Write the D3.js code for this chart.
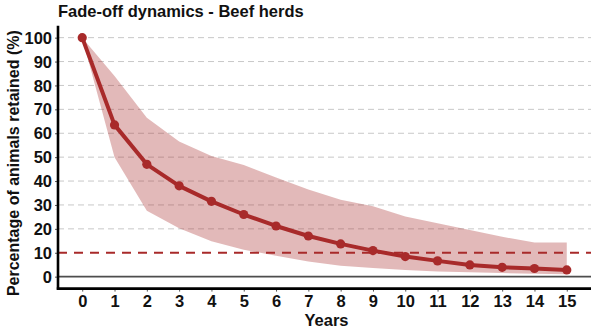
<!DOCTYPE html>
<html>
<head>
<meta charset="utf-8">
<script src="https://cdn.jsdelivr.net/npm/d3@7"></script>
<style>
  html, body { margin: 0; padding: 0; background: #fff; }
  svg { display: block; font-family: "Liberation Sans", Arial, sans-serif; }
</style>
</head>
<body>
<svg id="chart" width="600" height="328"></svg>
<script>
// Fade-off of beef herds: share of animals still retained after N years
const years = [0, 1, 2, 3, 4, 5, 6, 7, 8, 9, 10, 11, 12, 13, 14, 15];
const meanRetained = [100, 63.5, 47, 38, 31.5, 26, 21.2, 17, 13.7, 10.9, 8.4, 6.6, 4.9, 3.9, 3.4, 2.8];
const upperRetained = [100, 84, 66.5, 56.5, 50.5, 46.7, 41.5, 36.5, 32.2, 29.5, 25.2, 22.3, 19.5, 16.7, 14.3, 14.3];
const lowerRetained = [100, 50, 27.6, 20.2, 14.8, 11.3, 8.7, 6.3, 4.6, 3.6, 2.8, 2.2, 1.8, 1.5, 1.2, 1.0];
const yTicks = [0, 10, 20, 30, 40, 50, 60, 70, 80, 90, 100];
const threshold = 10;

const red = "#a82a2a";
const svg = d3.select("#chart");

const x = d3.scaleLinear().domain([-0.75, 15.75]).range([58, 591]);
const y = d3.scaleLinear().domain([-5, 105]).range([288.6, 25.7]);

// dashed grid lines
svg.append("g")
  .selectAll("line")
  .data(yTicks.filter(t => t > 0 && t !== threshold))
  .join("line")
  .attr("x1", x.range()[0]).attr("x2", x.range()[1])
  .attr("y1", d => y(d)).attr("y2", d => y(d))
  .attr("stroke", "#c8c8c8").attr("stroke-width", 1)
  .attr("stroke-dasharray", "6,4");

// uncertainty band
const rows = years.map((yr, i) => ({ yr, m: meanRetained[i], lo: lowerRetained[i], hi: upperRetained[i] }));
svg.append("path")
  .datum(rows)
  .attr("d", d3.area().x(d => x(d.yr)).y0(d => y(d.lo)).y1(d => y(d.hi)))
  .attr("fill", red).attr("fill-opacity", 0.33);

// zero reference line
svg.append("line")
  .attr("x1", x.range()[0]).attr("x2", x.range()[1])
  .attr("y1", y(0)).attr("y2", y(0))
  .attr("stroke", "#4d4d4d").attr("stroke-width", 1.6);

// 10% threshold
svg.append("line")
  .attr("x1", x.range()[0]).attr("x2", x.range()[1])
  .attr("y1", y(threshold)).attr("y2", y(threshold))
  .attr("stroke", red).attr("stroke-width", 2.2)
  .attr("stroke-dasharray", "9,7");

// mean curve and points
svg.append("path")
  .datum(rows)
  .attr("d", d3.line().x(d => x(d.yr)).y(d => y(d.m)))
  .attr("fill", "none").attr("stroke", red).attr("stroke-width", 4)
  .attr("stroke-linejoin", "round");
svg.append("g")
  .selectAll("circle")
  .data(rows)
  .join("circle")
  .attr("cx", d => x(d.yr)).attr("cy", d => y(d.m)).attr("r", 4.6)
  .attr("fill", red);

// axes
const yAxis = d3.axisLeft(y).tickValues(yTicks).tickSize(3).tickPadding(3);
const gy = svg.append("g").attr("transform", `translate(${x.range()[0]},0)`).call(yAxis);
const xAxis = d3.axisBottom(x).tickValues(years).tickSize(3).tickPadding(4);
const gx = svg.append("g").attr("transform", `translate(0,${y.range()[0]})`).call(xAxis);

[gx, gy].forEach(g => {
  g.select(".domain").remove();
  g.selectAll(".tick line").attr("stroke", "#555").attr("stroke-width", 1);
  g.selectAll(".tick text")
    .attr("fill", "#111").attr("font-size", 16.5).attr("font-weight", "bold")
    .attr("font-family", "Liberation Sans, Arial, sans-serif");
});
gy.selectAll(".tick text").attr("dy", "0.34em");

// axis lines
svg.append("line")
  .attr("x1", x.range()[0]).attr("x2", x.range()[0])
  .attr("y1", y.range()[1]).attr("y2", y.range()[0] + 1.2)
  .attr("stroke", "#000").attr("stroke-width", 2.6);
svg.append("line")
  .attr("x1", x.range()[0] - 1.2).attr("x2", x.range()[1])
  .attr("y1", y.range()[0]).attr("y2", y.range()[0])
  .attr("stroke", "#000").attr("stroke-width", 2.6);

// titles
svg.append("text")
  .attr("x", 58).attr("y", 17)
  .attr("font-size", 16.5).attr("font-weight", "bold").attr("fill", "#111")
  .text("Fade-off dynamics - Beef herds");
svg.append("text")
  .attr("x", (x.range()[0] + x.range()[1]) / 2 + 2).attr("y", 326)
  .attr("text-anchor", "middle")
  .attr("font-size", 16.5).attr("font-weight", "bold").attr("fill", "#111")
  .text("Years");
svg.append("text")
  .attr("transform", `translate(19,${(y.range()[0] + y.range()[1]) / 2 + 6}) rotate(-90)`)
  .attr("text-anchor", "middle")
  .attr("font-size", 16).attr("font-weight", "bold").attr("fill", "#111")
  .text("Percentage of animals retained (%)");
</script>
</body>
</html>
